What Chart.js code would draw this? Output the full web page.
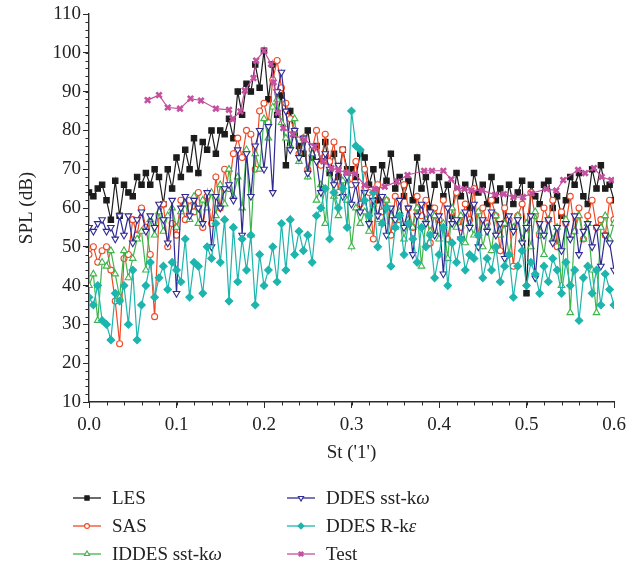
<!DOCTYPE html>
<html>
<head>
<meta charset="utf-8">
<script src="https://cdn.jsdelivr.net/npm/chart.js@4.4.1/dist/chart.umd.min.js"></script>
<style>
  html, body { margin: 0; padding: 0; background: #fff; }
  #wrap { width: 641px; height: 569px; position: relative; }
</style>
</head>
<body>
<div id="wrap"><canvas id="splChart"></canvas></div>
<script>
// Strouhal number grid shared by the CFD runs
const st = [
  0.000,0.005,0.010,0.015,0.020,0.025,0.030,0.035,0.040,0.045,
  0.050,0.055,0.060,0.065,0.070,0.075,0.080,0.085,0.090,0.095,
  0.100,0.105,0.110,0.115,0.120,0.125,0.130,0.135,0.140,0.145,
  0.150,0.155,0.160,0.165,0.170,0.175,0.180,0.185,0.190,0.195,
  0.200,0.205,0.210,0.215,0.220,0.225,0.230,0.235,0.240,0.245,
  0.250,0.255,0.260,0.265,0.270,0.275,0.280,0.285,0.290,0.295,
  0.300,0.305,0.310,0.315,0.320,0.325,0.330,0.335,0.340,0.345,
  0.350,0.355,0.360,0.365,0.370,0.375,0.380,0.385,0.390,0.395,
  0.400,0.405,0.410,0.415,0.420,0.425,0.430,0.435,0.440,0.445,
  0.450,0.455,0.460,0.465,0.470,0.475,0.480,0.485,0.490,0.495,
  0.500,0.505,0.510,0.515,0.520,0.525,0.530,0.535,0.540,0.545,
  0.550,0.555,0.560,0.565,0.570,0.575,0.580,0.585,0.590,0.595,
  0.600
];

const les = [
  64,63,65,66,62,57,67,58,66,64,
  63,68,66,69,66,70,68,61,70,65,
  73,68,75,70,78,69,77,75,80,74,
  80,79,83,78,90,84,92,90,97,91,
  100.5,88,97,84,89,71,85,79,76,74,
  80,73,76,72,77,69,74,68,75,70,
  70,68,74,73,66,70,62,71,67,74,
  65,68,63,67,62,73,65,68,60,66,
  68,63,66,58,69,63,66,60,69,64,
  66,61,68,62,65,56,66,61,64,67,
  38,66,63,61,66,67,60,63,58,62,
  68,66,69,63,61,70,65,71,65,66,
  62
];

const sas = [
  48,50,46,49,50,44,36,25,47,48,
  57,53,60,55,48,32,58,61,50,56,
  53,62,57,62,59,64,55,63,56,68,
  60,70,65,74,78,73,80,79,70,85,
  87,82,93,98,91,87,83,80,74,78,
  70,75,80,71,79,72,77,64,75,69,
  66,72,61,70,64,52,66,59,62,53,
  63,57,66,60,55,63,58,62,51,60,
  57,62,52,59,64,55,61,57,65,53,
  60,56,62,58,49,60,57,45,58,61,
  55,64,58,53,60,57,62,50,59,56,
  63,54,60,52,58,62,55,57,53,62,
  57
];

const iddes = [
  40,43,31,46,45,49,43,37,49,42,
  47,52,54,44,57,53,59,54,58,60,
  55,59,61,57,63,56,62,60,64,58,
  66,61,70,63,68,60,75,53,74,70,
  83,78,86,88,82,78,76,83,72,78,
  68,74,62,66,56,70,63,58,67,62,
  50,60,56,59,54,61,57,56,62,58,
  55,59,52,57,55,60,45,57,54,58,
  52,56,47,60,55,58,51,56,53,59,
  50,55,49,58,53,56,48,55,58,52,
  56,50,59,54,48,57,52,55,40,57,
  33,54,58,52,56,44,33,55,58,52,
  56
];

const ddesSst = [
  55,54,56,57,54,55,52,58,53,58,
  51,57,59,54,58,55,61,57,51,62,
  38,60,63,58,62,60,56,64,50,63,
  60,65,66,62,75,53,74,63,76,80,
  70,81,64,90,95,85,75,80,73,78,
  69,76,72,64,74,70,66,71,63,68,
  61,66,59,64,56,62,58,63,53,60,
  57,62,55,60,48,58,61,56,59,53,
  58,43,60,56,57,52,59,55,61,50,
  57,54,59,53,56,47,58,54,57,51,
  55,58,42,56,53,57,51,55,49,56,
  52,58,48,54,56,50,55,45,53,51,
  44
];

const ddesRke = [
  37,35,40,31,30,26,38,36,40,30,
  44,26,35,40,46,37,42,45,39,46,
  44,41,52,37,46,45,38,50,47,56,
  46,57,36,55,41,52,44,53,35,48,
  40,44,50,41,56,44,57,48,54,49,
  53,46,58,60,65,52,64,60,65,55,
  85,76,75,62,58,64,50,56,60,45,
  55,58,48,56,52,46,55,50,53,42,
  48,55,40,51,46,52,44,48,47,53,
  42,47,44,50,41,45,48,37,45,49,
  40,46,43,38,45,41,47,44,38,46,
  40,44,31,42,45,38,44,35,43,39,
  35
];

// measured spectrum
const testSt = [
  0.067,0.080,0.090,0.104,0.116,0.128,0.145,0.160,0.164,0.173,
  0.178,0.188,0.191,0.200,0.208,0.211,0.216,0.222,0.233,0.246,
  0.258,0.268,0.277,0.285,0.294,0.304,0.315,0.327,0.338,0.352,
  0.364,0.383,0.392,0.405,0.414,0.421,0.429,0.437,0.449,0.464,
  0.474,0.485,0.496,0.506,0.523,0.534,0.542,0.559,0.567,0.577,
  0.586,0.597
];
const testSpl = [
  87.8,89.1,85.9,85.6,88.2,87.7,85.6,85.3,82.9,84.9,
  90.3,93.5,98.0,100.5,97.1,92.4,84.6,80.6,79.0,77.6,
  75.8,72.0,70.3,69.8,69.1,68.8,65.9,64.9,65.5,66.8,
  68.5,69.6,69.6,69.6,67.4,65.2,64.9,64.5,64.6,63.4,
  63.6,62.8,62.8,63.8,64.9,64.5,67.2,69.8,69.0,70.3,
  68.0,67.2
];

const xTicks = [0.0, 0.1, 0.2, 0.3, 0.4, 0.5, 0.6];
const yTicks = [10, 20, 30, 40, 50, 60, 70, 80, 90, 100, 110];

const serif = '"Liberation Serif", "DejaVu Serif", serif';
const axisColor = '#2b2b2b';
const fontSize = 19;

function pairs(xs, ys) {
  return xs.map((x, i) => ({ x: x, y: ys[i] }));
}

const series = [
  { label: 'LES', data: pairs(st, les), color: '#1c1c1c', fill: '#1c1c1c', style: 'rect', radius: 3.8, rot: 0, order: 5 },
  { label: 'SAS', data: pairs(st, sas), color: '#ef4a26', fill: '#ffffff', style: 'circle', radius: 3, rot: 0, order: 4 },
  { label: 'IDDES sst-k', greek: 'ω', data: pairs(st, iddes), color: '#3fb54a', fill: '#ffffff', style: 'triangle', radius: 3.8, rot: 0, order: 3 },
  { label: 'DDES sst-k', greek: 'ω', data: pairs(st, ddesSst), color: '#2f2b93', fill: '#ffffff', style: 'triangle', radius: 3.8, rot: 180, order: 2 },
  { label: 'DDES R-k', greek: 'ε', data: pairs(st, ddesRke), color: '#1db5ad', fill: '#1db5ad', style: 'rectRot', radius: 3.8, rot: 0, order: 1 },
  { label: 'Test', data: pairs(testSt, testSpl), color: '#c4509f', fill: '#c4509f', style: 'crossRot', radius: 3.8, rot: 0, order: 0, bw: 2.6 }
];

// minor ticks + two-column legend, drawn on the canvas
const extrasPlugin = {
  id: 'extras',
  afterDraw(chart) {
    const ctx = chart.ctx;
    const xs = chart.scales.x, ys = chart.scales.y;
    const area = chart.chartArea;
    ctx.save();
    ctx.strokeStyle = axisColor;
    ctx.lineWidth = 1;
    for (let v = 0; v <= 0.6001; v += 0.02) {
      const px = Math.round(xs.getPixelForValue(v)) + 0.5;
      ctx.beginPath();
      ctx.moveTo(px, area.bottom);
      ctx.lineTo(px, area.bottom + 3.5);
      ctx.stroke();
    }
    for (let v = 10; v <= 110.001; v += 2) {
      const py = Math.round(ys.getPixelForValue(v)) + 0.5;
      ctx.beginPath();
      ctx.moveTo(area.left, py);
      ctx.lineTo(area.left - 3.5, py);
      ctx.stroke();
    }

    // legend
    const cols = [73, 287];
    const rows = [498, 526, 554];
    series.forEach((s, i) => {
      const x0 = cols[Math.floor(i / 3)];
      const y0 = rows[i % 3];
      ctx.strokeStyle = s.color;
      ctx.lineWidth = 1.3;
      ctx.beginPath();
      ctx.moveTo(x0, y0);
      ctx.lineTo(x0 + 28, y0);
      ctx.stroke();
      ctx.fillStyle = s.fill;
      ctx.strokeStyle = s.color;
      ctx.lineWidth = s.bw || 1.1;
      Chart.helpers.drawPoint(ctx, {
        pointStyle: s.style, rotation: s.rot, radius: s.radius * 0.8, borderWidth: s.bw || 1.1
      }, x0 + 14, y0);
      ctx.fillStyle = '#222';
      ctx.textBaseline = 'middle';
      ctx.font = fontSize + 'px ' + serif;
      ctx.fillText(s.label, x0 + 39, y0 + 1);
      if (s.greek) {
        const w = ctx.measureText(s.label).width;
        ctx.font = 'italic ' + fontSize + 'px ' + serif;
        ctx.fillText(s.greek, x0 + 39 + w, y0 + 1);
      }
    });
    ctx.restore();
  }
};

const ctx = document.getElementById('splChart').getContext('2d');
new Chart(ctx, {
  type: 'line',
  data: {
    datasets: series.map(s => ({
      label: s.label,
      data: s.data,
      borderColor: s.color,
      backgroundColor: s.fill,
      pointStyle: s.style,
      rotation: s.rot,
      pointRadius: s.radius,
      pointBorderWidth: s.bw || 1.1,
      pointBorderColor: s.color,
      pointBackgroundColor: s.fill,
      borderWidth: 1.2,
      tension: 0,
      fill: false,
      order: s.order
    }))
  },
  options: {
    responsive: true,
    maintainAspectRatio: false,
    animation: false,
    layout: { padding: { left: 0, top: 14, right: 27, bottom: 103 } },
    plugins: { legend: { display: false }, tooltip: { enabled: false } },
    scales: {
      x: {
        type: 'linear',
        min: 0,
        max: 0.6,
        afterBuildTicks: scale => { scale.ticks = xTicks.map(v => ({ value: v })); },
        afterFit: scale => { scale.height = 64; },
        ticks: {
          callback: v => Number(v).toFixed(1),
          font: { family: serif, size: fontSize },
          color: '#222',
          padding: 6,
          maxRotation: 0
        },
        grid: { drawOnChartArea: false, drawTicks: true, tickLength: 6, color: axisColor, tickWidth: 1 },
        border: { display: true, color: axisColor, width: 1.4 },
        title: { display: true, text: "St ('1')", font: { family: serif, size: fontSize }, color: '#222', padding: { top: 2, bottom: 2 } }
      },
      y: {
        min: 10,
        max: 110,
        afterBuildTicks: scale => { scale.ticks = yTicks.map(v => ({ value: v })); },
        afterFit: scale => { scale.width = 89; },
        ticks: {
          font: { family: serif, size: fontSize },
          color: '#222',
          padding: 2
        },
        grid: { drawOnChartArea: false, drawTicks: true, tickLength: 6, color: axisColor, tickWidth: 1 },
        border: { display: true, color: axisColor, width: 1.4 },
        title: { display: true, text: 'SPL (dB)', font: { family: serif, size: fontSize }, color: '#222', padding: { top: 16, bottom: 0 } }
      }
    }
  },
  plugins: [extrasPlugin]
});
</script>
</body>
</html>
